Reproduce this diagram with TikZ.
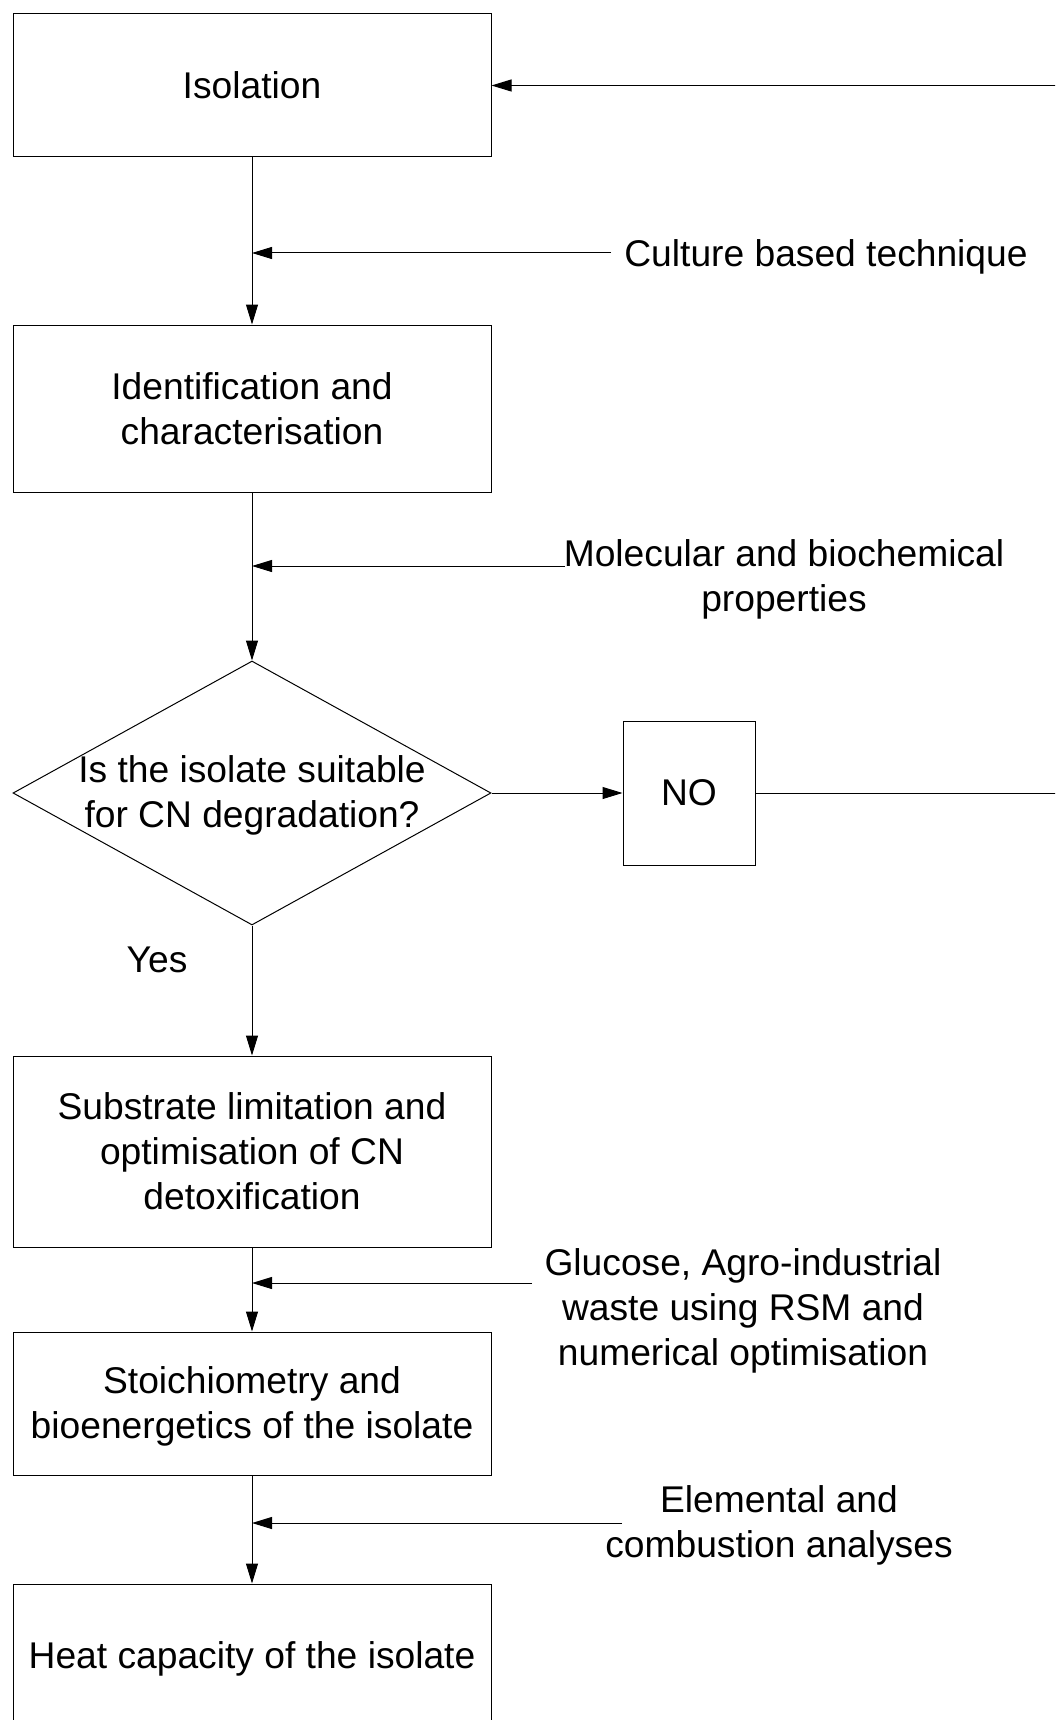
\documentclass[tikz,border=0pt]{standalone}
\usepackage{fontspec}
\setmainfont{Liberation Sans}
\usetikzlibrary{arrows.meta,shapes.geometric}
\newcommand\diafont{\fontsize{37.2}{45}\selectfont}
\newcommand\lowertext[2]{\raisebox{-#1}[\height][\depth]{#2}}
\tikzset{
  box/.style={draw, line width=1pt, minimum width=478pt, inner sep=0pt, align=center},
  arr/.style={-{Triangle[length=20pt,width=12pt]}, line width=1pt},
  ln/.style={line width=1pt},
  lbl/.style={inner sep=0pt, align=center},
}
\begin{document}
\begin{tikzpicture}[x=1pt,y=-1pt, every node/.append style={font=\diafont}]
\useasboundingbox (0,0) rectangle (1055,1720);
\clip (0,0) rectangle (1055,1720);
% boxes
\node[box, minimum height=143pt] (iso) at (252,85.5) {Isolation};
\node[box, minimum height=167pt] (ident) at (252,408.5) {Identification and\\characterisation};
\node[draw, line width=1pt, shape=diamond, minimum width=478pt, minimum height=264pt, aspect=1.81, inner sep=0pt] (dec) at (252,793) {};
\node[lbl] (dectext) at (252,795) {Is the isolate suitable\\for CN degradation?};
\node[box, minimum width=132pt, minimum height=144pt] (no) at (689,793) {NO};
\node[box, minimum height=191pt] (sub) at (252,1151.5) {Substrate limitation and\\optimisation of CN\\detoxification};
\node[box, minimum height=143pt] (sto) at (252,1403.5) {\lowertext{3pt}{\begin{tabular}{@{}c@{}}Stoichiometry and\\bioenergetics of the isolate\end{tabular}}};
\node[box, minimum height=142pt] (heat) at (252,1655) {\lowertext{4pt}{Heat capacity of the isolate}};
% side labels
\node[lbl] (l1) at (826,256.5) {Culture based technique};
\node[lbl] (l2) at (784,579) {Molecular and biochemical\\properties};
\node[lbl] (l3) at (743,1311) {Glucose, Agro-industrial\\waste using RSM and\\numerical optimisation};
\node[lbl] (l4) at (779,1525) {Elemental and\\combustion analyses};
\node[lbl] (yes) at (157,960) {Yes};
% coordinates
\coordinate (s1) at (611,253);  \coordinate (e1) at (252,253);
\coordinate (s2) at (565,566);  \coordinate (e2) at (252,566);
\coordinate (s3) at (532,1283); \coordinate (e3) at (252,1283);
\coordinate (s4) at (622,1523); \coordinate (e4) at (252,1523);
\coordinate (fbtop) at (1065,85.5);
\coordinate (fbno) at (1065,793);
% main flow
\draw[arr] (iso.south) -- (ident.north);
\draw[arr] (ident.south) -- (dec.north);
\draw[arr] (dec.south) -- (sub.north);
\draw[arr] (sub.south) -- (sto.north);
\draw[arr] (sto.south) -- (heat.north);
\draw[arr] (dec.east) -- (no.west);
\draw[ln] (no.east) -- (fbno);
\draw[arr] (fbtop) -- (iso.east);
% side arrows
\draw[arr] (s1) -- (e1);
\draw[arr] (s2) -- (e2);
\draw[arr] (s3) -- (e3);
\draw[arr] (s4) -- (e4);
\end{tikzpicture}
\end{document}
